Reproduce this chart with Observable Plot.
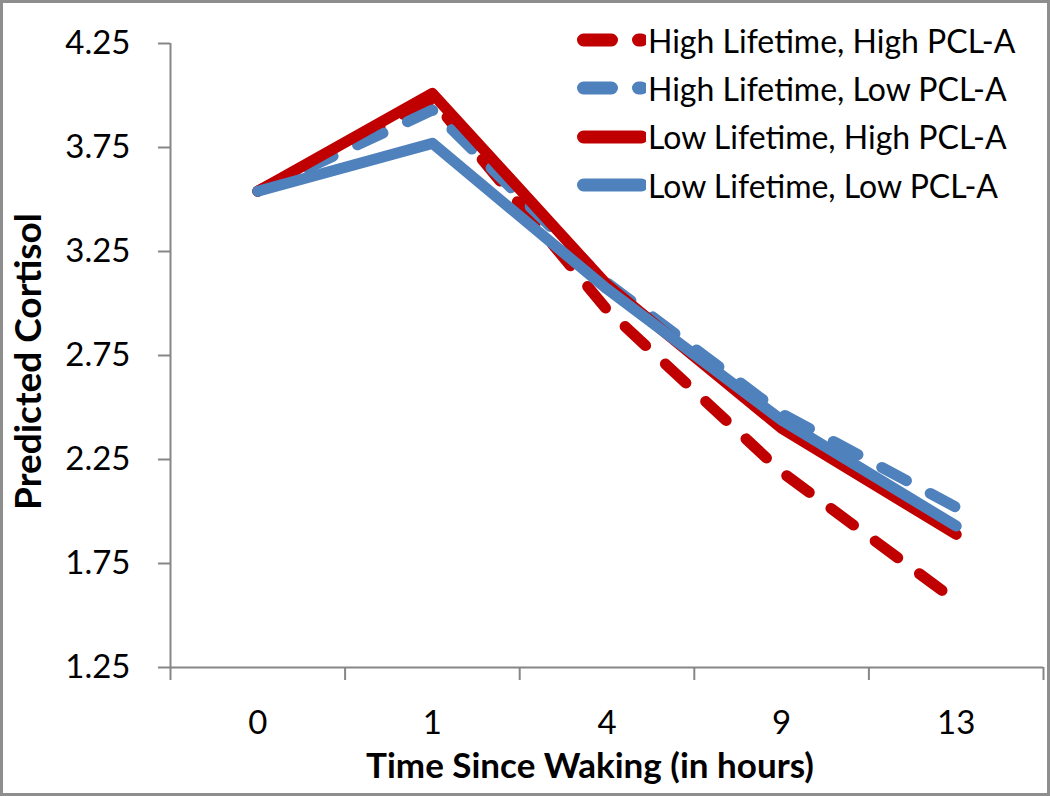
<!DOCTYPE html>
<html>
<head>
<meta charset="utf-8">
<script src="https://cdn.jsdelivr.net/npm/d3@7"></script>
<script src="https://cdn.jsdelivr.net/npm/@observablehq/plot@0.6"></script>
<style>
  html, body { margin: 0; padding: 0; background: #fff; }
  #wrap { position: relative; width: 1050px; height: 796px; overflow: hidden; font-family: Lato, "Noto Sans", sans-serif; }
  #wrap svg.plot { position: absolute; left: 0; top: 0; }
  #frame { position: absolute; left: 0; top: 0; width: 1050px; height: 796px; box-sizing: border-box; border: 3px solid #8e8e8e; pointer-events: none; }
  #legend { position: absolute; left: 570px; top: 16px; }
  .row { display: flex; align-items: center; height: 48.3px; }
  .row svg { display: block; }
  .row span { font-size: 32px; color: #000; margin-left: 2px; white-space: nowrap; }
</style>
</head>
<body>
<div id="wrap"><div id="legend"></div><div id="frame"></div></div>
<script>
// Data
const times = ["0", "1", "4", "9", "13"];
const seriesNames = [
  "High Lifetime, High PCL-A",
  "High Lifetime, Low PCL-A",
  "Low Lifetime, High PCL-A",
  "Low Lifetime, Low PCL-A"
];
const highLifeHighPCL = [3.54, 3.98, 2.97, 2.19, 1.57];
const highLifeLowPCL  = [3.54, 3.93, 3.10, 2.47, 2.02];
const lowLifeHighPCL  = [3.54, 4.01, 3.09, 2.40, 1.89];
const lowLifeLowPCL   = [3.54, 3.77, 3.07, 2.44, 1.93];
const yTicks = [1.25, 1.75, 2.25, 2.75, 3.25, 3.75, 4.25];

const RED = "#C00000", BLUE = "#4F81BD", AXIS = "#868686";
const styles = [
  {color: RED, dash: "28,27"},
  {color: BLUE, dash: "28,27"},
  {color: RED, dash: null},
  {color: BLUE, dash: null}
];
const allSeries = [highLifeHighPCL, highLifeLowPCL, lowLifeHighPCL, lowLifeLowPCL];
const rows = allSeries.map((vals, s) => vals.map((v, i) => ({series: seriesNames[s], idx: i, value: v})));

const idx = times.map((_, i) => i);
const bounds = [-0.5, ...idx.map(i => i + 0.5)];

const chart = Plot.plot({
  width: 1050,
  height: 796,
  marginLeft: 170,
  marginRight: 7,
  marginTop: 43,
  marginBottom: 129,
  style: {fontFamily: "Lato, 'Noto Sans', sans-serif", background: "transparent", overflow: "visible"},
  x: {domain: [-0.5, times.length - 0.5], axis: null},
  y: {domain: [1.25, 4.25], axis: null},
  marks: [
    // axes
    Plot.ruleX([-0.5], {y1: 1.25, y2: 4.25, stroke: AXIS, strokeWidth: 2}),
    Plot.ruleY([1.25], {x1: -0.5, x2: times.length - 0.5, stroke: AXIS, strokeWidth: 2}),
    Plot.axisY({ticks: yTicks, tickSize: 12, tickPadding: 28, tickFormat: d3.format(".2f"),
      fontSize: 33, stroke: AXIS, strokeWidth: 2, color: "#000", label: null}),
    Plot.axisX({ticks: bounds, tickSize: 13, tickFormat: () => "", stroke: AXIS, strokeWidth: 2, label: null}),
    Plot.axisX({ticks: idx, tickSize: 0, tickPadding: 43, tickFormat: i => times[i],
      fontSize: 33, color: "#000", label: null}),
    // titles
    Plot.text(["Predicted Cortisol"], {frameAnchor: "left", textAnchor: "middle", lineAnchor: "middle",
      rotate: -90, dx: -141, dy: 6, fontSize: 37, fontWeight: "bold", fill: "#000"}),
    Plot.text(["Time Since Waking (in hours)"], {frameAnchor: "bottom", textAnchor: "middle", lineAnchor: "middle",
      dy: 99, dx: -17, fontSize: 35, fontWeight: "bold", fill: "#000"}),
    // lines
    ...rows.map((data, s) => Plot.line(data, {
      x: "idx", y: "value", stroke: styles[s].color, strokeWidth: 11,
      strokeDasharray: styles[s].dash, strokeLinecap: "round", strokeLinejoin: "round"
    }))
  ]
});
chart.classList.add("plot");
document.getElementById("wrap").prepend(chart);

// Legend (inside plot area, top right)
const legend = document.getElementById("legend");
seriesNames.forEach((name, s) => {
  const row = document.createElement("div");
  row.className = "row";
  const ns = "http://www.w3.org/2000/svg";
  const svg = document.createElementNS(ns, "svg");
  svg.setAttribute("width", 76);
  svg.setAttribute("height", 20);
  const ln = document.createElementNS(ns, "line");
  ln.setAttribute("x1", 13.5); ln.setAttribute("x2", 71.5);
  ln.setAttribute("y1", 10); ln.setAttribute("y2", 10);
  ln.setAttribute("stroke", styles[s].color);
  ln.setAttribute("stroke-width", 13);
  ln.setAttribute("stroke-linecap", "round");
  if (styles[s].dash) ln.setAttribute("stroke-dasharray", "28,27");
  svg.appendChild(ln);
  const span = document.createElement("span");
  span.textContent = name;
  row.appendChild(svg);
  row.appendChild(span);
  legend.appendChild(row);
});
</script>
</body>
</html>
